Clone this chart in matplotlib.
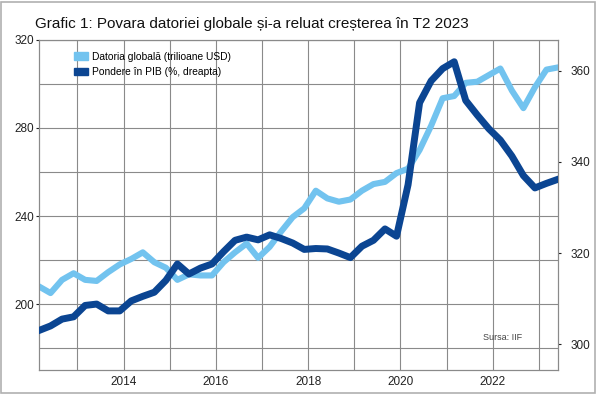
import matplotlib
matplotlib.use("Agg")
import matplotlib.pyplot as plt
from matplotlib.patches import Patch, Rectangle
from matplotlib.ticker import MultipleLocator, FixedLocator
import pandas as pd

plt.rcParams['font.family'] = ['Liberation Sans', 'DejaVu Sans']

# quarterly data, 2012 T1 .. 2023 T2
quarters = pd.period_range('2012Q1', '2023Q2', freq='Q')

datorie = [208, 205, 211, 214, 211, 210.5, 214.5, 218, 220.5, 223.5,
           219, 216.5, 211, 213.5, 213, 213, 219, 223.5, 227.5, 221,
           226, 233, 239.5, 243.5, 251.5, 248, 246.5, 247.5, 251.5, 254.5,
           255.5, 259.5, 261.5, 270, 281, 293.5, 294.5, 300.5, 301, 304,
           307, 297, 289, 298.5, 306.5, 307.5]

pondere = [303, 304, 305.5, 306, 308.5, 308.8, 307.3, 307.3, 309.5, 310.5,
           311.4, 314, 317.6, 315.4, 316.7, 317.6, 320.3, 322.8, 323.5, 322.9,
           324, 323.2, 322.2, 320.8, 321, 320.9, 320, 319, 321.5, 322.8,
           325.3, 323.7, 335, 353, 357.8, 360.5, 362, 353.5, 350.3, 347.3,
           344.8, 341.3, 337, 334.3, 335.3, 336.2]

# each quarter placed at the start of its last month
x = [p.year + (3 * p.quarter - 1) / 12 for p in quarters]

light = '#72C3EF'
dark = '#0B4592'
grid_c = '#8a8a8a'

fig = plt.figure(figsize=(6.0, 3.95), dpi=100)
ax = fig.add_axes([0.065, 0.063, 0.865, 0.836])
ax2 = ax.twinx()

ax.plot(x, datorie, color=light, lw=4.4, solid_joinstyle='round', zorder=3)
ax2.plot(x, pondere, color=dark, lw=5.0, solid_joinstyle='round', zorder=3)

ax.set_xlim(x[0], x[-1])
ax.set_ylim(170, 320)
ax2.set_ylim(294.3, 366.8)

ax.xaxis.set_major_locator(FixedLocator([2014, 2016, 2018, 2020, 2022]))
ax.xaxis.set_minor_locator(MultipleLocator(1))
ax.yaxis.set_major_locator(FixedLocator([200, 240, 280, 320]))
ax.yaxis.set_minor_locator(FixedLocator([180, 220, 260, 300]))
ax2.yaxis.set_major_locator(FixedLocator([300, 320, 340, 360]))

ax.grid(True, which='both', color=grid_c, lw=0.8)
ax.set_axisbelow(True)
ax.tick_params(axis='x', which='both', length=0, labelsize=8.5, pad=4, colors='#222222')
ax.tick_params(axis='y', which='major', length=2.5, labelsize=8.5, pad=1, colors='#222222')
ax.tick_params(axis='y', which='minor', length=0)
ax2.tick_params(axis='y', length=2.5, labelsize=8.5, pad=6.5, colors='#222222')

for a in (ax, ax2):
    for s in a.spines.values():
        s.set_color(grid_c)
        s.set_linewidth(0.8)

handles = [Patch(color=light), Patch(color=dark)]
labels = ['Datoria globală (trilioane USD)', 'Pondere în PIB (%, dreapta)']
ax2.legend(handles, labels, loc='upper left', bbox_to_anchor=(0.06, 0.977),
           frameon=False, fontsize=7.4, handlelength=1.3, handleheight=0.7,
           handletextpad=0.4, labelspacing=0.55, borderaxespad=0)

ax.text(0.894, 0.099, 'Sursa: IIF', transform=ax.transAxes, fontsize=6.5,
        color='#444444', ha='center', va='center')

fig.text(0.058, 0.94, 'Grafic 1: Povara datoriei globale și-a reluat creșterea în T2 2023',
         fontsize=11, color='#111111', ha='left', va='center')

fig.patches.append(Rectangle((0.002, 0.006), 0.99, 0.99, transform=fig.transFigure,
                             fill=False, edgecolor='#b0b0b0', lw=1.2))

fig.savefig('out.png', dpi=100)
